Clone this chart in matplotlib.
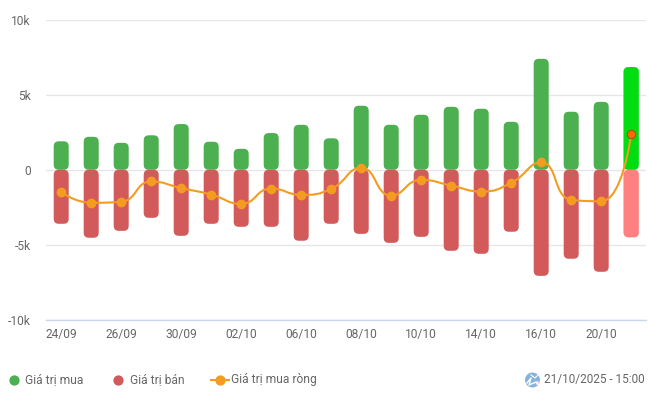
import matplotlib
matplotlib.use("Agg")
import numpy as np
import matplotlib.pyplot as plt
from matplotlib.lines import Line2D
from matplotlib.patches import Circle, FancyBboxPatch, PathPatch, Wedge
from matplotlib.path import Path
from matplotlib.transforms import Affine2D

plt.rcParams["font.family"] = ["Roboto", "DejaVu Sans"]

W, H = 656, 393
FS = 12 * 72 / 100  # 12 px

dates = ["24/09", "25/09", "26/09", "29/09", "30/09", "01/10", "02/10", "03/10", "06/10", "07/10",
         "08/10", "09/10", "10/10", "13/10", "14/10", "15/10", "16/10", "17/10", "20/10", "21/10"]
buy = [1900, 2200, 1800, 2300, 3050, 1870, 1400, 2450, 3000, 2100,
       4270, 3000, 3670, 4200, 4070, 3200, 7400, 3870, 4530, 6850]
sell = [-3600, -4530, -4070, -3200, -4400, -3600, -3800, -3800, -4730, -3600,
        -4270, -4870, -4470, -5400, -5600, -4130, -7070, -5930, -6800, -4500]
net = [-1500, -2200, -2130, -780, -1220, -1650, -2270, -1250, -1670, -1270,
       130, -1720, -670, -1050, -1450, -870, 490, -2000, -2100, 2400]
y_ticks = [-10000, -5000, 0, 5000, 10000]
y_labels = ["-10k", "-5k", "0", "5k", "10k"]

GREEN = "#4CAF50"
RED = "#D35A5A"
ORANGE = "#F39C1F"
TEXT = "#666666"


def clamp(v, a, b):
    return max(min(a, b), min(v, max(a, b)))


def smooth_path(xs, ys, s=0.5):
    # meme lissage qu'echarts, calcule a l'echelle des pixels (30 px par categorie, 15 px par millier)
    px_x = [v * 30.0 for v in xs]
    px_y = [v * 15.0 / 1000 for v in ys]
    n = len(px_x)
    out = [(px_x[0], px_y[0])]
    codes = [Path.MOVETO]
    cp_x, cp_y = px_x[0], px_y[0]
    for i in range(1, n):
        x, y = px_x[i], px_y[i]
        if i == n - 1:
            c0x, c0y, next_x, next_y = x, y, x, y
        else:
            nx, ny = px_x[i + 1], px_y[i + 1]
            vx, vy = nx - px_x[i - 1], ny - px_y[i - 1]
            len_prev = np.hypot(x - px_x[i - 1], y - px_y[i - 1])
            len_next = np.hypot(nx - x, ny - y)
            ratio = len_next / (len_next + len_prev)
            next_x = clamp(x + vx * s * ratio, x, nx)
            next_y = clamp(y + vy * s * ratio, y, ny)
            c0x = clamp(x - (next_x - x) * len_prev / len_next, px_x[i - 1], x)
            c0y = clamp(y - (next_y - y) * len_prev / len_next, px_y[i - 1], y)
            next_x = x + (x - c0x) * len_next / len_prev
            next_y = y + (y - c0y) * len_next / len_prev
        out += [(cp_x, cp_y), (c0x, c0y), (x, y)]
        codes += [Path.CURVE4, Path.CURVE4, Path.CURVE4]
        cp_x, cp_y = next_x, next_y
    verts = [(a / 30.0, b * 1000 / 15.0) for a, b in out]
    return Path(verts, codes)


def round_bar(ax, x, v, color):
    # 5 px de rayon : 1/6 de categorie en x, 333 unites en y
    r = min(5 / 30, abs(v) / 2000)
    patch = FancyBboxPatch((x - 0.25, min(0, v)), 0.5, abs(v), boxstyle=f"round,pad=0,rounding_size={r}",
                           mutation_aspect=2000, facecolor=color, edgecolor="none", zorder=2)
    ax.add_patch(patch)


fig = plt.figure(figsize=(W / 100, H / 100), dpi=100)
ax = fig.add_axes([46.2 / W, 1 - 319.8 / H, 600 / W, 300 / H])
ax.set_xlim(-0.5, len(dates) - 0.5)
ax.set_ylim(-10000, 10000)

for i in range(len(dates)):
    last = i == len(dates) - 1
    if last:
        # barre survolee : halo clair autour
        for v, c in ((buy[i], "#7FEE88"), (sell[i], "#FFC4C4")):
            p = FancyBboxPatch((i - 0.265, min(0, v)), 0.53, abs(v),
                               boxstyle="round,pad=0,rounding_size=0.17", mutation_aspect=2000,
                               facecolor=c, edgecolor="none", zorder=1.9)
            ax.add_patch(p)
    round_bar(ax, i, buy[i], "#00DD11" if last else GREEN)
    round_bar(ax, i, sell[i], "#FF8080" if last else RED)

x = np.arange(len(dates))
ax.add_patch(PathPatch(smooth_path(list(x), net), facecolor="none", edgecolor=ORANGE, lw=1.5, zorder=3))
ax.plot(x[:-1], net[:-1], ls="none", marker="o", ms=6, color=ORANGE, mec=ORANGE, zorder=4)
ax.plot(x[-1:], net[-1:], ls="none", marker="o", ms=6, color="#FF6A00", mec="#A8501A", mew=0.8, zorder=4)

ax.set_yticks(y_ticks)
ax.set_yticklabels(y_labels, fontsize=FS, color=TEXT)
ax.set_xticks(x[::2])
ax.set_xticklabels(dates[::2], fontsize=FS, color=TEXT)
ax.tick_params(axis="both", length=0)
ax.tick_params(axis="y", pad=11)
ax.tick_params(axis="x", pad=6)
ax.grid(axis="y", color="#E6E6E6", lw=1)
ax.set_axisbelow(True)
for side in ("top", "left", "right"):
    ax.spines[side].set_visible(False)
ax.spines["bottom"].set_color("#CCD6EB")
ax.spines["bottom"].set_linewidth(1)

# legende en pixels de l'image
px = Affine2D().scale(1 / W, -1 / H).translate(0, 1) + fig.transFigure
LEG_Y = 380
fig.add_artist(Line2D([14], [LEG_Y], transform=px, ls="none", marker="o", ms=7.4, color=GREEN, mew=0))
fig.text(25, LEG_Y, "Giá trị mua", transform=px, fontsize=FS, color=TEXT, va="center")
fig.add_artist(Line2D([118], [LEG_Y], transform=px, ls="none", marker="o", ms=7.4, color=RED, mew=0))
fig.text(130, LEG_Y, "Giá trị bán", transform=px, fontsize=FS, color=TEXT, va="center")
fig.add_artist(Line2D([211, 229], [LEG_Y, LEG_Y], transform=px, color=ORANGE, lw=1.5))
fig.add_artist(Line2D([220], [LEG_Y], transform=px, ls="none", marker="o", ms=7.4, color=ORANGE, mew=0))
fig.text(231, LEG_Y, "Giá trị mua ròng", transform=px, fontsize=FS, color=TEXT, va="center")
fig.text(645, LEG_Y, "21/10/2025 - 15:00", transform=px, fontsize=FS * 0.98, color=TEXT, va="center", ha="right")

# petite icone globe
fig.add_artist(Circle((532.5, LEG_Y), 7.5, transform=px, facecolor="#85B3DC", edgecolor="none"))
fig.add_artist(Wedge((532.5, LEG_Y), 7.5, 10, 50, width=3, transform=px, facecolor="#F4C6CC", edgecolor="none"))
fig.add_artist(Line2D([527, 531, 529, 536, 539], [383, 378, 385, 382, 385], transform=px, color="white", lw=1.0))
fig.add_artist(Line2D([531, 535, 538], [375, 378, 375], transform=px, color="white", lw=0.8))

fig.savefig("out.png", dpi=100)
